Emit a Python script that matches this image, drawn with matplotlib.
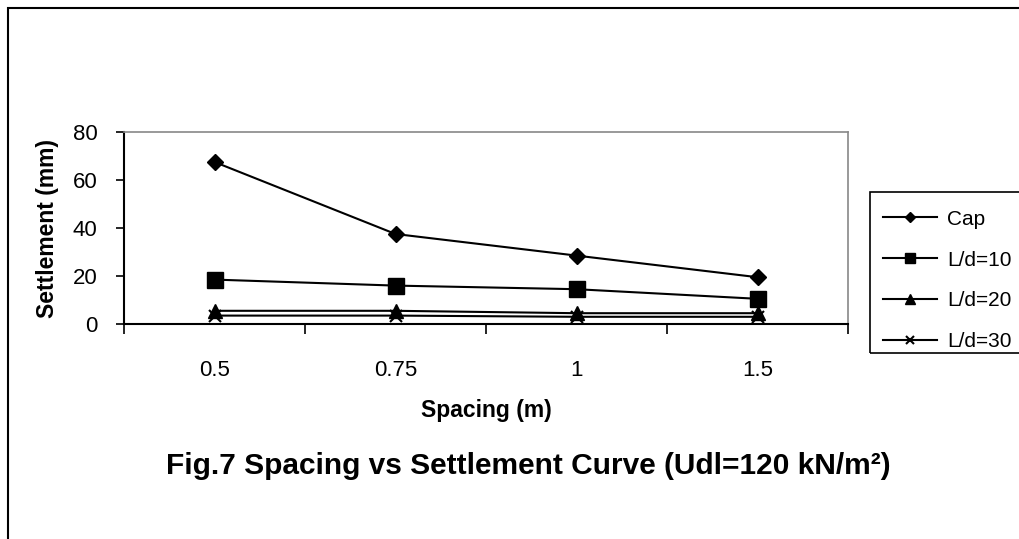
import matplotlib.pyplot as plt
from matplotlib.patches import Rectangle

plt.rcParams['font.family'] = ['Liberation Sans', 'DejaVu Sans']

spacing = ['0.5', '0.75', '1', '1.5']
cap = [67.5, 37.5, 28.5, 19.5]
ld10 = [18.5, 16, 14.5, 10.5]
ld20 = [5.5, 5.5, 4.5, 4.5]
ld30 = [3.5, 3.5, 3, 3]

series = [
    ('Cap', cap, 'D', 8),
    ('L/d=10', ld10, 's', 11),
    ('L/d=20', ld20, '^', 10),
    ('L/d=30', ld30, 'x', 9),
]

fig = plt.figure(figsize=(10.2, 5.39), dpi=100)
ax = fig.add_axes([124 / 1020, 1 - 324 / 539, 724 / 1020, 192 / 539])

xs = list(range(len(spacing)))
for name, vals, mk, ms in series:
    ax.plot(xs, vals, color='black', lw=1.5, marker=mk, markersize=ms,
            markeredgewidth=1.5 if mk == 'x' else 1, label=name)

ax.set_xlim(-0.5, len(spacing) - 0.5)
ax.set_ylim(0, 80)
ax.set_yticks([0, 20, 40, 60, 80])
ax.set_xticks(xs)
ax.set_xticklabels(spacing)
ax.set_xticks([i - 0.5 for i in range(len(spacing) + 1)], minor=True)
ax.tick_params(axis='x', which='major', length=0, pad=26, labelsize=16)
ax.tick_params(axis='x', which='minor', length=7, width=1.2, direction='out')
ax.tick_params(axis='y', length=6, width=1.2, direction='out', pad=13, labelsize=16)

for s in ['top', 'right']:
    ax.spines[s].set_color('#888888')
    ax.spines[s].set_linewidth(1.2)
for s in ['left', 'bottom']:
    ax.spines[s].set_color('black')
    ax.spines[s].set_linewidth(1.5)

ax.set_xlabel('Spacing (m)', fontsize=16.5, fontweight='bold', labelpad=13)
ax.set_ylabel('Settlement (mm)', fontsize=16.5, fontweight='bold', labelpad=10)

# legend text without frame, box drawn separately (Excel-style uneven padding)
leg = fig.legend(loc='upper left', bbox_to_anchor=(865 / 1020, 1 - 192 / 539),
                 fontsize=15, frameon=False, handlelength=2.6,
                 handletextpad=0.48, labelspacing=1.05, borderpad=0.85,
                 borderaxespad=0, markerscale=0.65)
legbox = Rectangle((870 / 1020, 1 - 353 / 539), 0.2, (353 - 192) / 539,
                   transform=fig.transFigure, fill=False, edgecolor='black', lw=1.2)
fig.patches.append(legbox)

fig.text(528 / 1020, 1 - 466 / 539,
         'Fig.7 Spacing vs Settlement Curve (Udl=120 kN/m²)',
         ha='center', va='center', fontsize=21.5, fontweight='bold')

border = Rectangle((8 / 1020, -0.1), 1.2, 1.1 - 8 / 539, transform=fig.transFigure,
                   fill=False, edgecolor='black', lw=1.5)
fig.patches.append(border)

fig.savefig('out.png', dpi=100)
